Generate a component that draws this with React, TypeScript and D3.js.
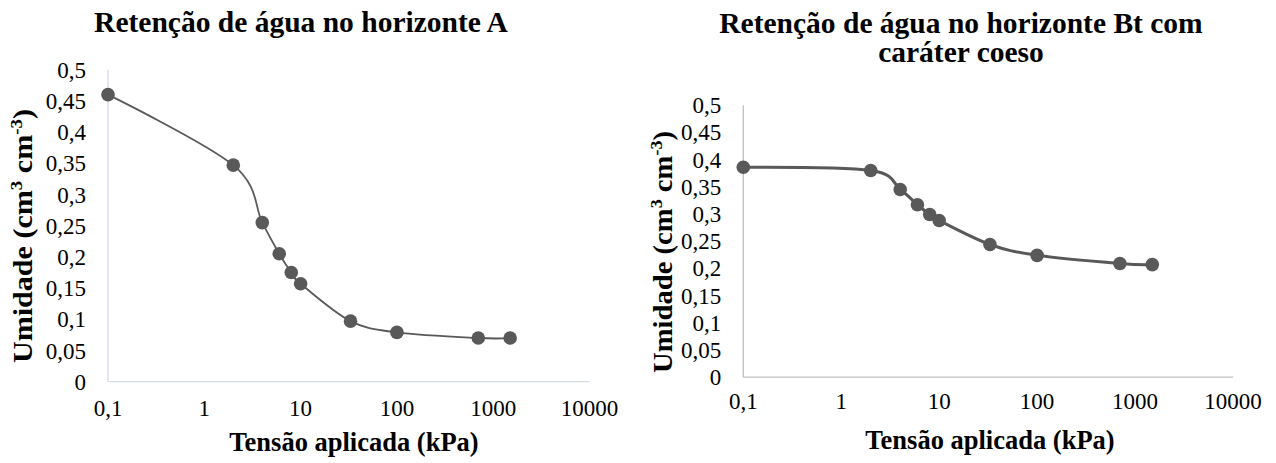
import React from "react";
import * as d3 from "d3";

const pressures = [0.1, 2, 4, 6, 8, 10, 33, 100, 700, 1500];
const moistureA = [0.46, 0.347, 0.255, 0.205, 0.175, 0.157, 0.097, 0.079, 0.07, 0.07];
const moistureBt = [0.386, 0.38, 0.345, 0.317, 0.299, 0.288, 0.244, 0.224, 0.209, 0.207];
const xTicks = [0.1, 1, 10, 100, 1000, 10000];
const xTickLabels = ["0,1", "1", "10", "100", "1000", "10000"];
const yTicks = [0, 0.05, 0.1, 0.15, 0.2, 0.25, 0.3, 0.35, 0.4, 0.45, 0.5];
const yTickLabels = ["0", "0,05", "0,1", "0,15", "0,2", "0,25", "0,3", "0,35", "0,4", "0,45", "0,5"];

const FONT = "Liberation Serif";
const GREY = "#595959";

type PanelProps = {
  values: number[];
  x0: number;
  x1: number;
  y0: number;
  y1: number;
  axisColor: string;
  lineWidth: number;
  titleLines: string[];
  titleX: number;
  titleY: number;
  yTitleX: number;
  yTitleY: number;
  yTitleLen: number;
  xTitleX: number;
  xTitleY: number;
  xLabelY: number;
};

function Panel(p: PanelProps) {
  const x = d3.scaleLog().domain([0.1, 10000]).range([p.x0, p.x1]);
  const y = d3.scaleLinear().domain([0, 0.5]).range([p.y0, p.y1]);
  const pts: [number, number][] = pressures.map((v, i) => [x(v), y(p.values[i])]);
  const line = d3.line().curve(d3.curveCardinal.tension(0))(pts) || "";
  return (
    <g style={{ fontFamily: FONT }}>
      {p.titleLines.map((t, i) => (
        <text key={i} x={p.titleX} y={p.titleY + i * 29} textAnchor="middle"
          fontWeight="bold" fontSize={29.5} fill="#000">{t}</text>
      ))}
      <line x1={p.x0} x2={p.x0} y1={p.y0} y2={p.y1} stroke={p.axisColor} strokeWidth={1.3} />
      <line x1={p.x0} x2={p.x1} y1={p.y0} y2={p.y0} stroke={p.axisColor} strokeWidth={1.3} />
      {yTicks.map((t, i) => (
        <text key={i} x={p.x0 - 22} y={y(t)} dy="0.35em" textAnchor="end"
          fontSize={23} fill="#000">{yTickLabels[i]}</text>
      ))}
      {xTicks.map((t, i) => (
        <text key={i} x={x(t)} y={p.xLabelY} dy="0.35em" textAnchor="middle"
          fontSize={23} fill="#000">{xTickLabels[i]}</text>
      ))}
      <path d={line} fill="none" stroke={GREY} strokeWidth={p.lineWidth} />
      {pts.map((q, i) => (
        <circle key={i} cx={q[0]} cy={q[1]} r={6.8} fill={GREY} />
      ))}
      <text x={p.xTitleX} y={p.xTitleY} textAnchor="middle"
        fontWeight="bold" fontSize={26.5} fill="#000">Tensão aplicada (kPa)</text>
      <text transform={`translate(${p.yTitleX - p.yTitleLen / 2 * 0},${p.yTitleY}) rotate(-90)`}
        x={-p.yTitleLen / 2} dy="0.35em" textAnchor="start" textLength={p.yTitleLen} lengthAdjust="spacingAndGlyphs"
        fontWeight="bold" fontSize={27} fill="#000">
        Umidade (cm<tspan fontSize={17} dy="-10">3</tspan><tspan dy="10"> cm</tspan>
        <tspan fontSize={17} dy="-10">-3</tspan><tspan dy="10">)</tspan>
      </text>
    </g>
  );
}

export default function App() {
  return (
    <svg width={1276} height={463} style={{ position: "absolute", left: 0, top: 0, background: "#fff" }}>
      <rect width={1276} height={463} fill="#fff" />
      <Panel values={moistureA} x0={108} x1={589.5} y0={381.7} y1={69.7} axisColor="#d6dce5"
        lineWidth={1.8} titleLines={["Retenção de água no horizonte A"]} titleX={301} titleY={32}
        yTitleX={23} yTitleY={236} yTitleLen={254} xTitleX={354} xTitleY={451} xLabelY={408} />
      <Panel values={moistureBt} x0={743.3} x1={1233} y0={377.2} y1={105.2} axisColor="#bfbfbf"
        lineWidth={3} titleLines={["Retenção de água no horizonte Bt com", "caráter coeso"]} titleX={961} titleY={33}
        yTitleX={663} yTitleY={252} yTitleLen={242} xTitleX={990} xTitleY={449} xLabelY={401} />
    </svg>
  );
}
